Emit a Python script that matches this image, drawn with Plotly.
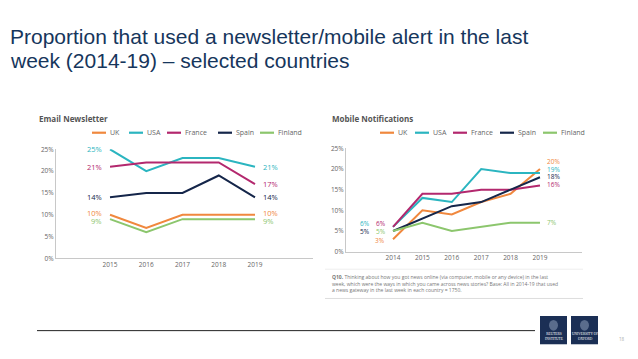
import plotly.graph_objects as go

countries = ["UK", "USA", "France", "Spain", "Finland"]
colors = ["#f0883e", "#2bb5c0", "#b3286e", "#15264a", "#8cc66d"]

email_years = [2015, 2016, 2017, 2018, 2019]
email_uk = [10, 7, 10, 10, 10]
email_usa = [25, 20, 23, 23, 21]
email_france = [21, 22, 22, 22, 17]
email_spain = [14, 15, 15, 19, 14]
email_finland = [9, 6, 9, 9, 9]

mobile_years = [2014, 2015, 2016, 2017, 2018, 2019]
mobile_uk = [3, 10, 9, 12, 14, 20]
mobile_usa = [6, 13, 12, 20, 19, 19]
mobile_france = [6, 14, 14, 15, 15, 16]
mobile_spain = [5, 8, 11, 12, 15, 18]
mobile_finland = [5, 7, 5, 6, 7, 7]

y_ticks = [0, 5, 10, 15, 20, 25]
y_tick_labels = ["0%", "5%", "10%", "15%", "20%", "25%"]

title_lines = ["Proportion that used a newsletter/mobile alert in the last",
               "week (2014-19) \u2013 selected countries"]
footnote = ("<b>Q10.</b> Thinking about how you got news online (via computer, mobile or any device) in the last<br>"
            "week, which were the ways in which you came across news stories? Base: All in 2014-19 that used<br>"
            "a news gateway in the last week in each country = 1750.")

email_series = [email_uk, email_usa, email_france, email_spain, email_finland]
mobile_series = [mobile_uk, mobile_usa, mobile_france, mobile_spain, mobile_finland]

W, H = 638, 359
def px(x): return x / W
def py(y): return 1 - y / H

fig = go.Figure()
for name, col, vals in zip(countries, colors, email_series):
    fig.add_trace(go.Scatter(x=email_years, y=vals, mode="lines", name=name,
                             line=dict(color=col, width=2), cliponaxis=False,
                             xaxis="x", yaxis="y", showlegend=False))
for name, col, vals in zip(countries, colors, mobile_series):
    fig.add_trace(go.Scatter(x=mobile_years, y=vals, mode="lines", name=name,
                             line=dict(color=col, width=2), cliponaxis=False,
                             xaxis="x2", yaxis="y2", showlegend=False))

tickfont = dict(family="Open Sans", size=6.5, color="#666")
axis_common = dict(showgrid=False, zeroline=False, showline=True, linecolor="#c8c8c8",
                   linewidth=1, ticks="", tickfont=tickfont)

fig.update_layout(
    width=W, height=H, margin=dict(l=0, r=0, t=0, b=0),
    paper_bgcolor="white", plot_bgcolor="white",
    xaxis=dict(domain=[px(56), px(313)], range=[2013.51, 2020.6], tickvals=email_years,
               anchor="y", **axis_common),
    yaxis=dict(domain=[py(260), py(148)], range=[0, 25], tickvals=y_ticks, ticktext=y_tick_labels,
               anchor="x", **axis_common),
    xaxis2=dict(domain=[px(346), px(582)], range=[2012.4, 2020.43], tickvals=mobile_years,
                anchor="y2", **axis_common),
    yaxis2=dict(domain=[py(253), py(147)], range=[0, 25], tickvals=y_ticks, ticktext=y_tick_labels,
                anchor="x2", **axis_common),
    showlegend=False,
)

ann = []
shapes = []
# main title (two lines)
for line, ly in zip(title_lines, [32, 57]):
    ann.append(dict(text=line, x=px(8), y=py(ly), xref="paper", yref="paper", xanchor="left", yanchor="middle",
                    align="left", showarrow=False, font=dict(family="Liberation Sans", size=21, color="#16365c")))
# panel titles
ann.append(dict(text="<b>Email Newsletter</b>", x=px(37), y=py(116), xref="paper", yref="paper",
                xanchor="left", yanchor="middle", showarrow=False, font=dict(family="Open Sans", size=8, color="#555")))
ann.append(dict(text="<b>Mobile Notifications</b>", x=px(330), y=py(116), xref="paper", yref="paper",
                xanchor="left", yanchor="middle", showarrow=False, font=dict(family="Open Sans", size=8, color="#555")))

# legends
left_leg_x = [92, 129, 167, 218, 260]
right_leg_x = [380, 415, 453, 500, 543]
for lx_list, ly in [(left_leg_x, 131), (right_leg_x, 131)]:
    for name, col, lx in zip(countries, colors, lx_list):
        shapes.append(dict(type="line", xref="paper", yref="paper", x0=px(lx), x1=px(lx + 14),
                           y0=py(ly), y1=py(ly), line=dict(color=col, width=2.2)))
        ann.append(dict(text=name, x=px(lx + 16), y=py(ly), xref="paper", yref="paper", xanchor="left",
                        yanchor="middle", showarrow=False, font=dict(family="Open Sans", size=7, color="#666")))

lab_font = lambda c: dict(family="Open Sans", size=7.5, color=c)
# email start/end labels
email_start_shift = [2, 0, 0, 0, -2]
email_end_shift = [2, 0, 0, 0, -2]
for i, (col, vals) in enumerate(zip(colors, email_series)):
    ann.append(dict(text=f"{vals[0]}%", x=email_years[0], y=vals[0], xref="x", yref="y", xanchor="right",
                    yanchor="middle", xshift=-6, yshift=email_start_shift[i], showarrow=False, font=lab_font(col)))
    ann.append(dict(text=f"{vals[-1]}%", x=email_years[-1], y=vals[-1], xref="x", yref="y", xanchor="left",
                    yanchor="middle", xshift=6, yshift=email_end_shift[i], showarrow=False, font=lab_font(col)))

# mobile start labels (UK, USA, France, Spain, Finland)
m_start_xshift = [-7, -22, -6, -22, -6]
m_start_yshift = [-1, 3, 3, -1, -1]
m_end_yshift = [7, 4, 1, 1, 0]
mfont = lambda c: dict(family="Open Sans", size=6.5, color=c)
for i, (col, vals) in enumerate(zip(colors, mobile_series)):
    ann.append(dict(text=f"{vals[0]}%", x=mobile_years[0], y=vals[0], xref="x2", yref="y2", xanchor="right",
                    yanchor="middle", xshift=m_start_xshift[i], yshift=m_start_yshift[i], showarrow=False,
                    font=mfont(col), borderpad=0))
    ann.append(dict(text=f"{vals[-1]}%", x=mobile_years[-1], y=vals[-1], xref="x2", yref="y2", xanchor="left",
                    yanchor="middle", xshift=6, yshift=m_end_yshift[i], showarrow=False, font=mfont(col),
                    borderpad=0))

# footnote
ann.append(dict(text=footnote, x=px(330), y=py(274), xref="paper", yref="paper", xanchor="left", yanchor="top",
                align="left", showarrow=False, font=dict(family="Open Sans", size=5, color="#777")))
shapes.append(dict(type="line", xref="paper", yref="paper", x0=px(325), x1=px(583), y0=py(301), y1=py(301),
                   line=dict(color="#dddddd", width=1)))
shapes.append(dict(type="line", xref="paper", yref="paper", x0=px(325), x1=px(583), y0=py(271), y1=py(271),
                   line=dict(color="#eeeeee", width=1)))
# bottom rule
shapes.append(dict(type="line", xref="paper", yref="paper", x0=px(37), x1=px(535), y0=py(334), y1=py(334),
                   line=dict(color="#222", width=1)))
# logos
for x0, label in [(540, "REUTERS<br>INSTITUTE"), (571, "UNIVERSITY OF<br>OXFORD")]:
    shapes.append(dict(type="rect", xref="paper", yref="paper", x0=px(x0), x1=px(x0 + 27), y0=py(348), y1=py(319),
                       fillcolor="#1b2f55", line=dict(width=0)))
    ann.append(dict(text=label, x=px(x0 + 13.5), y=py(340), xref="paper", yref="paper", xanchor="center",
                    yanchor="middle", showarrow=False, font=dict(family="Liberation Serif", size=3.5, color="white")))
    shapes.append(dict(type="circle", xref="paper", yref="paper", x0=px(x0 + 9), x1=px(x0 + 18), y0=py(334), y1=py(323),
                       fillcolor="#5a6c8c", line=dict(width=0)))
ann.append(dict(text="18", x=px(622), y=py(343), xref="paper", yref="paper", xanchor="center", yanchor="middle",
                showarrow=False, font=dict(family="Open Sans", size=4.5, color="#aaa")))

fig.update_layout(annotations=ann, shapes=shapes)
fig.write_html("out.html", config={"displayModeBar": False},
               post_script="document.body.style.margin='0';document.body.style.overflow='hidden';")
